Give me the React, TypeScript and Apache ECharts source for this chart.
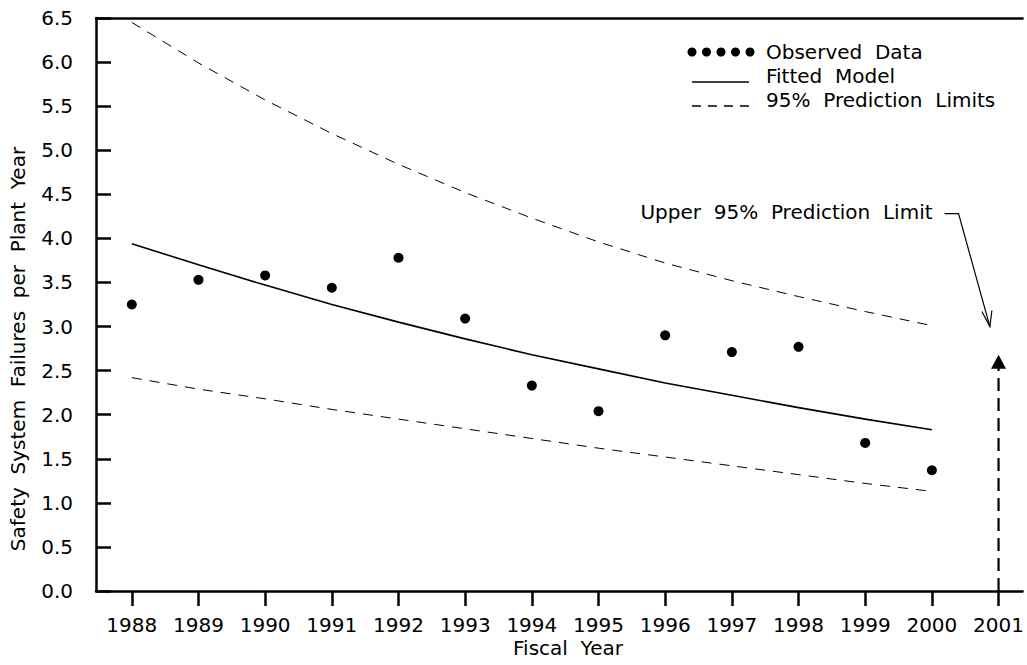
import React, { useEffect, useRef } from "react";
import * as echarts from "echarts";

const years = [1988, 1989, 1990, 1991, 1992, 1993, 1994, 1995, 1996, 1997, 1998, 1999, 2000];
const observed = [3.25, 3.53, 3.58, 3.44, 3.78, 3.09, 2.33, 2.04, 2.9, 2.71, 2.77, 1.68, 1.37];
const fitted = [3.94, 3.7, 3.47, 3.25, 3.05, 2.86, 2.68, 2.52, 2.36, 2.22, 2.08, 1.95, 1.83];
const upper = [6.45, 5.99, 5.57, 5.19, 4.84, 4.52, 4.23, 3.96, 3.72, 3.52, 3.34, 3.17, 3.01];
const lower = [2.42, 2.29, 2.18, 2.06, 1.95, 1.84, 1.73, 1.62, 1.52, 1.42, 1.32, 1.22, 1.13];
const predYear = 2001;
const predUpper = 2.6;
const tickYears = [1988, 1989, 1990, 1991, 1992, 1993, 1994, 1995, 1996, 1997, 1998, 1999, 2000, 2001];
const xTitle = "Fiscal  Year";
const yTitle = "Safety  System  Failures  per  Plant  Year";
const legendLabels = ["Observed  Data", "Fitted  Model", "95%  Prediction  Limits"];
const annotationText = "Upper  95%  Prediction  Limit";
// annotation arrow path in data coordinates
const arrowPath: [number, number][] = [
  [2000.19, 4.28],
  [2000.4, 4.28],
  [2000.87, 3.0],
];

const FONT = "DejaVu Sans";
const AXW = 2.5;

export default function App() {
  const ref = useRef<HTMLDivElement>(null);
  useEffect(() => {
    if (!ref.current) return;
    const chart = echarts.init(ref.current, undefined, { renderer: "svg" });
    const pair = (arr: number[]) => years.map((y, i) => [y, arr[i]]);
    chart.setOption({
      animation: false,
      backgroundColor: "#ffffff",
      grid: { left: 96, right: 0, top: 18, bottom: 74 },
      xAxis: [
        {
          type: "value",
          min: 1987.463,
          max: 2001.36,
          splitLine: { show: false },
          axisLine: { show: true, lineStyle: { color: "#000", width: AXW } },
          axisTick: {
            show: true,
            inside: false,
            length: 15,
            lineStyle: { color: "#000", width: AXW },
            customValues: tickYears,
          },
          axisLabel: {
            customValues: tickYears,
            formatter: (v: number) => String(Math.round(v)),
            color: "#000",
            fontFamily: FONT,
            fontSize: 20,
            margin: 24,
            showMinLabel: true,
            showMaxLabel: true,
          },
        },
        {
          type: "value",
          position: "top",
          min: 1987.463,
          max: 2001.36,
          splitLine: { show: false },
          axisLine: { show: true, lineStyle: { color: "#000", width: AXW } },
          axisTick: { show: false },
          axisLabel: { show: false },
        },
      ],
      yAxis: {
        type: "value",
        min: 0,
        max: 6.5,
        interval: 0.5,
        splitLine: { show: false },
        axisLine: { show: true, lineStyle: { color: "#000", width: AXW } },
        axisTick: { show: true, inside: true, length: 15, lineStyle: { color: "#000", width: AXW } },
        axisLabel: {
          formatter: (v: number) => v.toFixed(1),
          color: "#000",
          fontFamily: FONT,
          fontSize: 20,
          margin: 23,
        },
      },
      series: [
        {
          name: "Upper",
          type: "line",
          data: pair(upper),
          showSymbol: false,
          symbol: "none",
          lineStyle: { color: "#000", width: 1, type: [10, 8] },
          z: 2,
        },
        {
          name: "Lower",
          type: "line",
          data: pair(lower),
          showSymbol: false,
          symbol: "none",
          lineStyle: { color: "#000", width: 1, type: [10, 8] },
          z: 2,
        },
        {
          name: "Fitted Model",
          type: "line",
          data: pair(fitted),
          showSymbol: false,
          symbol: "none",
          lineStyle: { color: "#000", width: 1.6 },
          z: 3,
        },
        {
          name: "Observed Data",
          type: "scatter",
          data: pair(observed),
          symbol: "circle",
          symbolSize: 10,
          itemStyle: { color: "#000", opacity: 1 },
          z: 4,
        },
        {
          name: "Prediction",
          type: "line",
          data: [
            [predYear, 0],
            [predYear, predUpper],
          ],
          showSymbol: false,
          symbol: "none",
          lineStyle: { color: "#000", width: 2.2, type: [13, 7] },
          z: 3,
        },
        {
          name: "PredictionMarker",
          type: "scatter",
          data: [[predYear, predUpper]],
          symbol: "triangle",
          symbolSize: [15, 14],
          itemStyle: { color: "#000", opacity: 1 },
          z: 5,
        },
      ],
    });

    const pts = arrowPath.map((p) => chart.convertToPixel({ gridIndex: 0 }, p) as number[]);
    const tip = pts[2];
    const start = pts[0];
    const lx = 692;
    const textX = 766;
    const rowY = [52, 76, 100];
    const legendDots = [0, 1, 2, 3, 4].map((i) => ({
      type: "circle",
      shape: { cx: lx + i * 14.5, cy: rowY[0], r: 4.5 },
      style: { fill: "#000" },
    }));
    chart.setOption({
      graphic: [
        ...legendDots,
        {
          type: "line",
          shape: { x1: lx, y1: rowY[1] + 6, x2: lx + 57, y2: rowY[1] + 6 },
          style: { stroke: "#000", lineWidth: 1.6 },
        },
        {
          type: "line",
          shape: { x1: lx, y1: rowY[2] + 6, x2: lx + 57, y2: rowY[2] + 6 },
          style: { stroke: "#000", lineWidth: 1.6, lineDash: [9, 7] },
        },
        ...legendLabels.map((t, i) => ({
          type: "text",
          x: textX,
          y: rowY[i],
          style: {
            text: t,
            fill: "#000",
            font: `20px '${FONT}'`,
            textAlign: "left",
            textVerticalAlign: "middle",
          },
        })),
        {
          type: "text",
          x: start[0] - 12,
          y: start[1] - 2,
          style: {
            text: annotationText,
            fill: "#000",
            font: `20px '${FONT}'`,
            textAlign: "right",
            textVerticalAlign: "middle",
          },
        },
        {
          type: "polyline",
          shape: { points: pts },
          style: { stroke: "#000", lineWidth: 1.2, fill: null },
        },
        {
          type: "polyline",
          shape: {
            points: [
              [tip[0] - 8, tip[1] - 15],
              [tip[0], tip[1]],
              [tip[0] + 2, tip[1] - 16],
            ],
          },
          style: { stroke: "#000", lineWidth: 1.2, fill: null },
        },
        {
          type: "text",
          x: 568,
          y: 648,
          style: {
            text: xTitle,
            fill: "#000",
            font: `20px '${FONT}'`,
            textAlign: "center",
            textVerticalAlign: "middle",
          },
        },
        {
          type: "text",
          x: 18,
          y: 349,
          rotation: Math.PI / 2,
          style: {
            text: yTitle,
            fill: "#000",
            font: `20px '${FONT}'`,
            textAlign: "center",
            textVerticalAlign: "middle",
          },
        },
      ],
    });
    return () => chart.dispose();
  }, []);
  return (
    <div
      ref={ref}
      style={{ position: "absolute", left: 0, top: 0, width: 1027, height: 665, background: "#fff" }}
    />
  );
}
